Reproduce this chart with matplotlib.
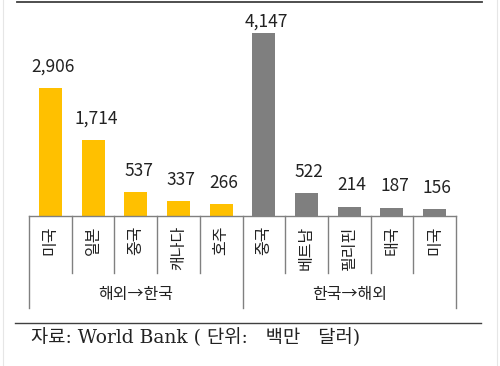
import matplotlib
matplotlib.use("Agg")
import matplotlib.pyplot as plt
import matplotlib.transforms as mtransforms
from matplotlib.lines import Line2D

plt.rcParams['font.family'] = ['Noto Sans CJK KR', 'DejaVu Sans']

categories = ["미국", "일본", "중국", "캐나다", "호주", "중국", "베트남", "필리핀", "태국", "미국"]
values = [2906, 1714, 537, 337, 266, 4147, 522, 214, 187, 156]
groups = ["해외→한국", "한국→해외"]
group_sizes = [5, 5]
group_colors = ["#FFC000", "#7F7F7F"]
source_text = "자료: World Bank ( 단위:   백만   달러)"

W, H = 500, 366
fig = plt.figure(figsize=(W / 100, H / 100), dpi=100)

def fx(px):
    return px / W

def fy(py):
    return 1 - py / H

ax_left, ax_right, ax_base, ax_top = 29, 456, 216, 20
ax = fig.add_axes([fx(ax_left), fy(ax_base), fx(ax_right - ax_left), (ax_base - ax_top) / H])

colors = []
for g, n in enumerate(group_sizes):
    colors += [group_colors[g]] * n

x = list(range(len(values)))
ax.bar(x, values, width=0.54, color=colors, zorder=2)
ax.set_xlim(-0.5, len(values) - 0.5)
px_per_unit = 22.7
ax.set_ylim(0, (ax_base - ax_top) * px_per_unit)

for s in ["top", "right", "left"]:
    ax.spines[s].set_visible(False)
ax.spines["bottom"].set_color("#808080")
ax.spines["bottom"].set_linewidth(1.0)
ax.set_yticks([])
ax.set_xticks(x)
ax.set_xticklabels(categories, rotation=90, fontsize=11.5, color="#222222")
ax.tick_params(axis="x", length=0, pad=7)

vmax = max(values)
for xi, v in zip(x, values):
    pad = 2 if v == vmax else 9
    ax.annotate(f"{v:,}", (xi, v), xytext=(2, pad), textcoords="offset points",
                ha="center", va="bottom", fontsize=12.5, color="#222222")

trans = mtransforms.blended_transform_factory(ax.transData, ax.transAxes)
ah = ax_base - ax_top
short_y = -(273 - ax_base) / ah
long_y = -(308 - ax_base) / ah
label_y = -(295 - ax_base) / ah

bounds = [0]
for n in group_sizes:
    bounds.append(bounds[-1] + n)
for i in range(len(values) + 1):
    yb = long_y if i in bounds else short_y
    ax.add_line(Line2D([i - 0.5, i - 0.5], [0, yb], transform=trans, color="#808080",
                       lw=1.0, clip_on=False))
for g, name in enumerate(groups):
    cx = (bounds[g] + bounds[g + 1]) / 2 - 0.5
    ax.text(cx, label_y, name, transform=trans, ha="center", va="center",
            fontsize=11.5, color="#222222")

# frame lines
fig.add_artist(Line2D([fx(17), fx(482)], [fy(2), fy(2)], color="#404040", lw=1.3))
fig.add_artist(Line2D([fx(15), fx(481)], [fy(323), fy(323)], color="#404040", lw=1.0))
fig.add_artist(Line2D([fx(3), fx(3)], [fy(0), fy(366)], color="#e6e6e6", lw=0.8))
fig.add_artist(Line2D([fx(497), fx(497)], [fy(0), fy(366)], color="#e6e6e6", lw=0.8))

fig.text(fx(31), fy(338), source_text, ha="left", va="center", fontsize=13.5,
         family=["DejaVu Serif", "Noto Sans CJK KR"], color="#222222")

fig.savefig("out.png", dpi=100, facecolor="white")
